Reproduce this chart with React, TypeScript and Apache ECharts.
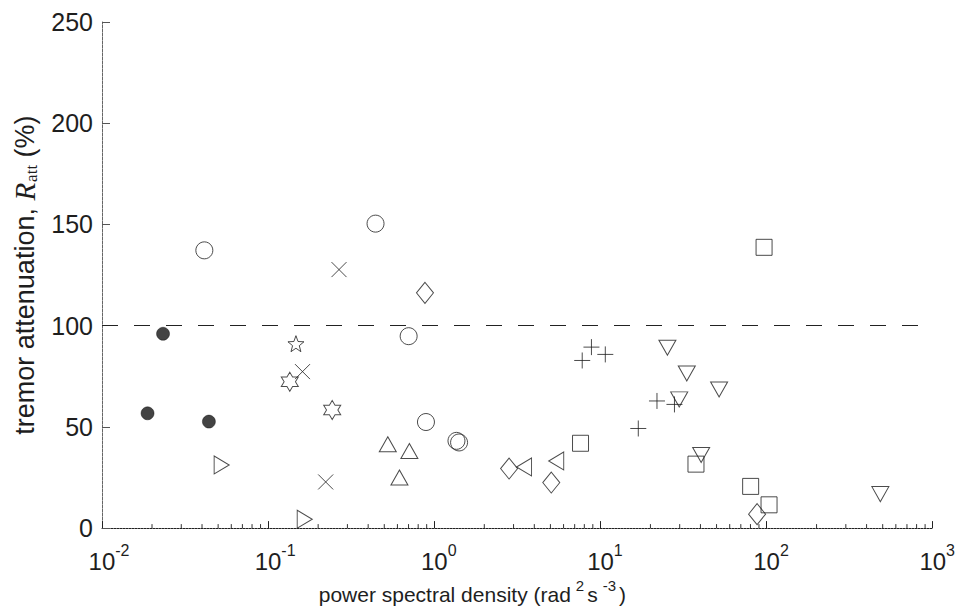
import React, { useEffect, useRef } from "react";
import * as echarts from "echarts";

// ---- data (x: power spectral density, y: tremor attenuation %) ----
const filledCircles: [number, number][] = [[0.0188, 56.7], [0.0233, 96.0], [0.044, 52.6]];
const openCircles: [number, number][] = [[0.0413, 137.2], [0.443, 150.4], [0.701, 94.8], [0.891, 52.4], [1.36, 43.1], [1.41, 42.3]];
const crosses: [number, number][] = [[0.267, 127.7], [0.161, 77.3], [0.222, 22.8]];
const stars5: [number, number][] = [[0.147, 91.1]];
const stars6: [number, number][] = [[0.135, 72.3], [0.243, 58.3]];
const trianglesRight: [number, number][] = [[0.0525, 31.2], [0.166, 4.4]];
const trianglesUp: [number, number][] = [[0.525, 41.4], [0.708, 38.1], [0.617, 25.0]];
const diamonds: [number, number][] = [[0.879, 116.2], [2.82, 29.4], [5.06, 22.5], [87.7, 6.9]];
const trianglesLeft: [number, number][] = [[3.47, 30.2], [5.42, 33.2]];
const squares: [number, number][] = [[7.59, 41.9], [96.6, 138.7], [37.6, 31.6], [80.2, 20.6], [103.5, 11.5]];
const pluses: [number, number][] = [[7.77, 82.8], [8.83, 89.4], [10.7, 85.8], [21.9, 62.8], [27.9, 61.1], [16.9, 49.2]];
const trianglesDown: [number, number][] = [[25.3, 89.1], [33.1, 76.4], [29.8, 63.6], [51.8, 68.5], [40.4, 36.1], [484, 16.8]];

const referenceLevel = 100;
const yTicks = { min: 0, max: 250, interval: 50 };
const xRange = { min: 0.01, max: 1000 };

const INK = "#1e1e1e";
const SANS = "'Liberation Sans', Arial, Helvetica, sans-serif";
const SERIF = "'Liberation Serif', 'Times New Roman', serif";

function starPath(n: number, R: number, r: number): string {
  let d = "";
  for (let i = 0; i < 2 * n; i++) {
    const a = -Math.PI / 2 + (i * Math.PI) / n;
    const rad = i % 2 ? r : R;
    d += (i ? "L" : "M") + (R + rad * Math.cos(a)).toFixed(2) + "," + (R + rad * Math.sin(a)).toFixed(2);
  }
  return "path://" + d + "Z";
}

function minorTickValues(): number[] {
  const out: number[] = [];
  for (let k = -2; k <= 2; k++) for (let m = 2; m <= 9; m++) out.push(m * Math.pow(10, k));
  return out;
}

const openStyle = { color: "rgba(0,0,0,0)", borderColor: INK, borderWidth: 1 };

export default function App() {
  const ref = useRef<HTMLDivElement>(null);
  useEffect(() => {
    document.body.style.margin = "0";
    const chart = echarts.init(ref.current!, undefined, { renderer: "svg" });
    const scatter = (name: string, data: [number, number][], symbol: string, size: any, itemStyle: any = openStyle) => ({
      name,
      type: "scatter",
      data,
      symbol,
      symbolSize: size,
      itemStyle,
      z: 3,
    });
    chart.setOption({
      animation: false,
      grid: { left: 100, right: 25, top: 22, bottom: 81 },
      xAxis: {
        type: "log",
        logBase: 10,
        min: xRange.min,
        max: xRange.max,
        splitLine: { show: false },
        axisLine: { show: true, onZero: false, lineStyle: { color: "#222", width: 1, type: [2, 1] } },
        axisTick: { show: true, inside: true, length: 7, lineStyle: { color: "#222" } },
        axisLabel: {
          margin: 14,
          formatter: (v: number) => {
            const e = Math.round(Math.log10(v));
            return e < 0 ? `{bn|10}{s|${e}}` : `{bp|10}{s|${e}}`;
          },
          rich: {
            bn: { fontSize: 24, fontFamily: SANS, color: INK, padding: [7, 0, 0, 14], verticalAlign: "bottom" },
            bp: { fontSize: 24, fontFamily: SANS, color: INK, padding: [7, 0, 0, 9], verticalAlign: "bottom" },
            s: { fontSize: 16, fontFamily: SANS, color: INK, verticalAlign: "top" },
          },
        },
        name: "{n|power spectral density (rad}{s|2}{m|s}{s|-3}{m|)}",
        nameLocation: "middle",
        nameGap: 49,
        nameTextStyle: {
          padding: [0, 90, 0, 0],
          rich: {
            n: { fontSize: 21, fontFamily: SANS, color: INK, padding: [6, 0, 0, 0], verticalAlign: "bottom" },
            m: { fontSize: 21, fontFamily: SANS, color: INK, padding: [6, 0, 0, 3], verticalAlign: "bottom" },
            s: { fontSize: 15, fontFamily: SANS, color: INK, padding: [0, 0, 0, 5], verticalAlign: "top" },
          },
        },
      },
      yAxis: {
        type: "value",
        min: yTicks.min,
        max: yTicks.max,
        interval: yTicks.interval,
        splitLine: { show: false },
        axisLine: { show: true, lineStyle: { color: "#666", width: 1, type: [3, 1] } },
        axisTick: { show: true, inside: true, length: 8, lineStyle: { color: "#555" } },
        axisLabel: {
          margin: 9,
          formatter: "{v|{value}}",
          rich: { v: { fontSize: 25, fontFamily: SANS, color: INK } },
        },
        name: "{n|tremor attenuation, }{r|R}{sub|att}{n| (%)}",
        nameLocation: "middle",
        nameRotate: 90,
        nameGap: 62,
        nameTextStyle: {
          rich: {
            n: { fontSize: 27, fontFamily: SANS, color: INK, lineHeight: 30 },
            r: { fontSize: 29, fontFamily: SERIF, fontStyle: "italic", color: INK, lineHeight: 30 },
            sub: { fontSize: 17, fontFamily: SERIF, color: INK, lineHeight: 17, padding: [15, 0, 0, 1], verticalAlign: "bottom" },
          },
        },
      },
      series: [
        {
          name: "reference",
          type: "line",
          data: [],
          markLine: {
            silent: true,
            symbol: "none",
            label: { show: false },
            lineStyle: { color: "#222", width: 1, type: [16, 16] },
            data: [{ yAxis: referenceLevel }],
          },
        },
        {
          name: "minorTicks",
          type: "custom",
          silent: true,
          data: minorTickValues().map((v) => [v, 0]),
          renderItem: (_p: any, api: any) => {
            const pt = api.coord([api.value(0), 0]);
            return {
              type: "line",
              shape: { x1: pt[0], y1: pt[1], x2: pt[0], y2: pt[1] - 4 },
              style: { stroke: "#333", lineWidth: 1 },
            };
          },
        },
        scatter("filledCircles", filledCircles, "circle", 13, { color: "#141414", borderColor: "#000", borderWidth: 0.5 }),
        scatter("openCircles", openCircles, "circle", 17),
        scatter("crosses", crosses, "path://M0,0L10,10M10,0L0,10", 15),
        scatter("stars5", stars5, starPath(5, 10, 4.2), 16),
        scatter("stars6", stars6, starPath(6, 10, 5.77), [17, 19]),
        scatter("trianglesRight", trianglesRight, "path://M0,0L10,5L0,10Z", [15, 18]),
        scatter("trianglesUp", trianglesUp, "path://M5,0L10,9L0,9Z", [17, 15]),
        scatter("diamonds", diamonds, "diamond", [17, 21]),
        scatter("trianglesLeft", trianglesLeft, "path://M10,0L0,5L10,10Z", [15, 18]),
        scatter("squares", squares, "rect", 16),
        scatter("pluses", pluses, "path://M5,0L5,10M0,5L10,5", 16),
        scatter("trianglesDown", trianglesDown, "path://M0,0L10,0L5,9Z", [17, 15]),
      ],
    });
    return () => chart.dispose();
  }, []);
  return <div ref={ref} style={{ width: 958, height: 610 }} />;
}
